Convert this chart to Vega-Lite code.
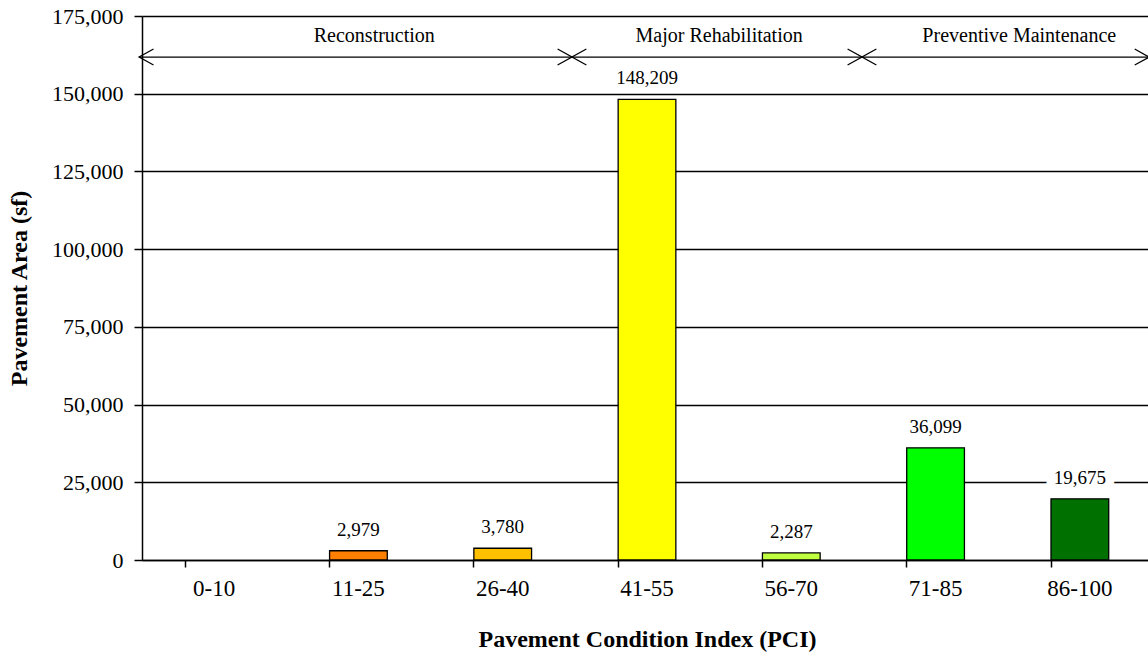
{
  "$schema": "https://vega.github.io/schema/vega-lite/v6.json",
  "width": 1006,
  "height": 544,
  "autosize": {"type": "none"},
  "padding": {"left": 142, "top": 16, "right": 0, "bottom": 96},
  "background": "white",
  "config": {
    "font": "Liberation Serif",
    "view": {"stroke": null},
    "axis": {
      "labelFont": "Liberation Serif",
      "titleFont": "Liberation Serif",
      "labelColor": "black",
      "titleColor": "black",
      "domainColor": "black",
      "tickColor": "black",
      "domainWidth": 1.5,
      "tickWidth": 1.5
    }
  },
  "datasets": {
    "areas": [
      {"pci": "0-10", "area": 0},
      {"pci": "11-25", "area": 2979},
      {"pci": "26-40", "area": 3780},
      {"pci": "41-55", "area": 148209},
      {"pci": "56-70", "area": 2287},
      {"pci": "71-85", "area": 36099},
      {"pci": "86-100", "area": 19675}
    ],
    "treatments": [
      {"treatment": "Reconstruction", "start": -0.02, "end": 2.98, "mid": 1.61},
      {"treatment": "Major Rehabilitation", "start": 2.98, "end": 4.99, "mid": 4.0},
      {"treatment": "Preventive Maintenance", "start": 4.99, "end": 6.98, "mid": 6.08}
    ]
  },
  "resolve": {"scale": {"x": "independent"}},
  "layer": [
    {
      "data": {"name": "areas"},
      "transform": [{"filter": "datum.area > 0"}],
      "layer": [
        {
          "mark": {"type": "bar", "stroke": "black", "strokeWidth": 1.3},
          "encoding": {
            "x": {
              "field": "pci",
              "type": "ordinal",
              "sort": null,
              "scale": {
                "domain": ["0-10", "11-25", "26-40", "41-55", "56-70", "71-85", "86-100"],
                "range": [0, 1010],
                "paddingInner": 0.6,
                "paddingOuter": 0.3
              },
              "axis": {
                "title": "Pavement Condition Index (PCI)",
                "titleFontSize": 24,
                "titleFontWeight": "bold",
                "titlePadding": 27,
                "labelFontSize": 23,
                "labelAngle": 0,
                "labelPadding": 10,
                "tickSize": 7,
                "bandPosition": 0,
                "grid": false
              }
            },
            "y": {
              "field": "area",
              "type": "quantitative",
              "scale": {"domain": [0, 175000], "nice": false},
              "axis": {
                "title": "Pavement Area (sf)",
                "titleFontSize": 24,
                "titleFontWeight": "bold",
                "titlePadding": 20,
                "labelFontSize": 22,
                "labelPadding": 11,
                "tickSize": 8,
                "values": [0, 25000, 50000, 75000, 100000, 125000, 150000, 175000],
                "format": ",d",
                "grid": true,
                "gridColor": "black",
                "gridWidth": 1.3,
                "gridOpacity": 1
              }
            },
            "color": {
              "field": "pci",
              "type": "nominal",
              "scale": {
                "domain": ["0-10", "11-25", "26-40", "41-55", "56-70", "71-85", "86-100"],
                "range": ["#FF0000", "#FF8000", "#FFC000", "#FFFF00", "#C0FF40", "#00FF00", "#007000"]
              },
              "legend": null
            }
          }
        },
        {
          "transform": [{"filter": "datum.area < 100000"}],
          "mark": {"type": "text", "baseline": "alphabetic", "dy": -15, "fontSize": 19, "fill": "white", "stroke": "white", "strokeWidth": 18, "strokeJoin": "round"},
          "encoding": {
            "x": {"field": "pci", "type": "ordinal", "sort": null},
            "y": {"field": "area", "type": "quantitative"},
            "text": {"field": "area", "type": "quantitative", "format": ",d"}
          }
        },
        {
          "mark": {"type": "text", "baseline": "alphabetic", "dy": -15, "fontSize": 19, "color": "black"},
          "encoding": {
            "x": {"field": "pci", "type": "ordinal", "sort": null},
            "y": {"field": "area", "type": "quantitative"},
            "text": {"field": "area", "type": "quantitative", "format": ",d"}
          }
        }
      ]
    },
    {
      "data": {"name": "treatments"},
      "layer": [
        {
          "mark": {"type": "rule", "color": "black", "strokeWidth": 1.3},
          "encoding": {
            "x": {"field": "start", "type": "quantitative", "scale": {"domain": [0, 7], "range": [0, 1010], "nice": false, "zero": false}, "axis": null},
            "x2": {"field": "end"},
            "y": {"datum": 161800, "type": "quantitative"}
          }
        },
        {
          "mark": {"type": "point", "shape": "M1.8,-1L0,0L1.8,1", "size": 256, "filled": false, "stroke": "black", "strokeWidth": 1.3, "opacity": 1},
          "encoding": {
            "x": {"field": "start", "type": "quantitative"},
            "y": {"datum": 161800, "type": "quantitative"}
          }
        },
        {
          "mark": {"type": "point", "shape": "M-1.8,-1L0,0L-1.8,1", "size": 256, "filled": false, "stroke": "black", "strokeWidth": 1.3, "opacity": 1},
          "encoding": {
            "x": {"field": "end", "type": "quantitative"},
            "y": {"datum": 161800, "type": "quantitative"}
          }
        },
        {
          "mark": {"type": "text", "baseline": "alphabetic", "fontSize": 20, "color": "black"},
          "encoding": {
            "x": {"field": "mid", "type": "quantitative"},
            "y": {"datum": 166600, "type": "quantitative"},
            "text": {"field": "treatment"}
          }
        }
      ]
    }
  ]
}
